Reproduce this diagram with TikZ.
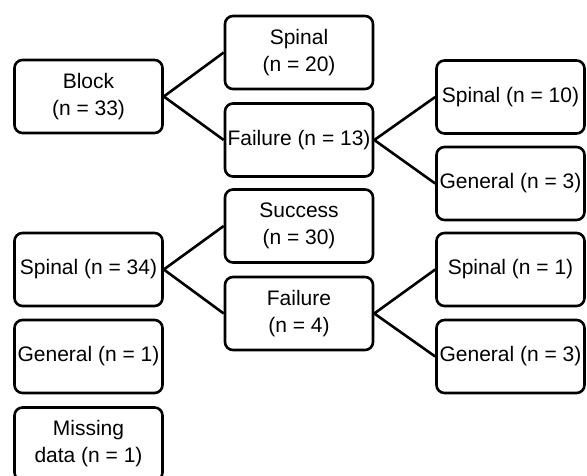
\documentclass[tikz,border=0pt]{standalone}
\usepackage{fontspec}
\setmainfont{Liberation Sans}
\usepackage{tikz}
\usetikzlibrary{positioning}

\begin{document}
\begin{tikzpicture}[x=1pt,y=-1pt,
  box/.style={draw,line width=2.6pt,rounded corners=8pt,align=center,
    minimum width=148pt,minimum height=73pt,inner sep=0pt,
    font=\fontsize{21}{27}\selectfont},
  link/.style={line width=2.6pt}]

\useasboundingbox (0,0) rectangle (587,476);

% first group
\node[box] (block) at (88.5,96.5) {Block\\(n = 33)};
\node[box] (spinal a) at (299,52.5) {Spinal\\(n = 20)};
\node[box] (failure a) at (299,140) {Failure (n = 13)};
\node[box] (spinal b) at (510.5,97) {Spinal (n = 10)};
\node[box] (general a) at (510.5,183.5) {General (n = 3)};

% second group
\node[box] (spinal c) at (88.5,269.5) {Spinal (n = 34)};
\node[box] (success) at (299,226) {Success\\(n = 30)};
\node[box] (failure b) at (299,313.5) {Failure\\(n = 4)};
\node[box] (spinal d) at (510.5,269.5) {Spinal (n = 1)};
\node[box] (general b) at (510.5,356.5) {General (n = 3)};

\node[box] (general c) at (88.5,356.5) {General (n = 1)};
\node[box] (missing) at (88.5,444) {Missing\\data (n = 1)};

\draw[link] (spinal a.west) -- (block.east) -- (failure a.west);
\draw[link] (spinal b.west) -- (failure a.east) -- (general a.west);
\draw[link] (success.west) -- (spinal c.east) -- (failure b.west);
\draw[link] (spinal d.west) -- (failure b.east) -- (general b.west);
\end{tikzpicture}
\end{document}
